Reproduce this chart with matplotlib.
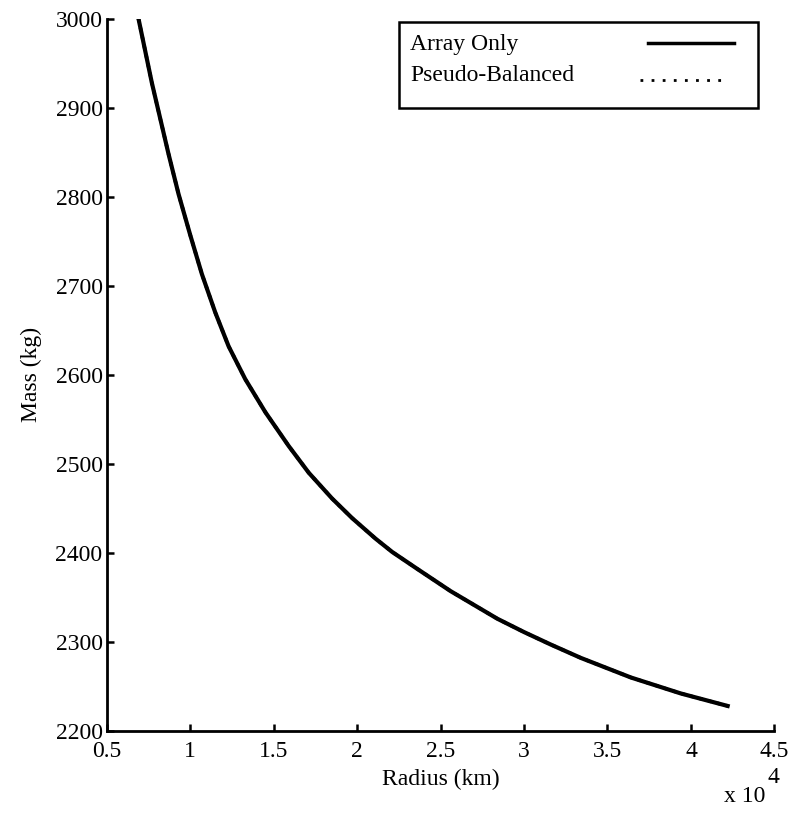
import matplotlib
matplotlib.use("Agg")
import matplotlib.pyplot as plt
from matplotlib.lines import Line2D
from matplotlib.patches import Rectangle
import numpy as np

plt.rcParams['font.family'] = ['Liberation Serif', 'DejaVu Serif']

# values (radius in km, mass in kg)
radius_km = np.array([6900, 7700, 8700, 9300, 10000, 10700, 11500, 12300, 13300,
                      14500, 15900, 17100, 18500, 19700, 21100, 22100, 23600,
                      25600, 28400, 30000, 31600, 33400, 36400, 39400, 42200])
mass_array_only = np.array([3000, 2928, 2848, 2803, 2757, 2713, 2670, 2632, 2595,
                            2558, 2520, 2490, 2461, 2439, 2416, 2401, 2382, 2357,
                            2326, 2311, 2297, 2282, 2260, 2242, 2228])
# the pseudo-balanced curve sits right under the array-only one
mass_pseudo = mass_array_only.copy()

xticks = [0.5, 1, 1.5, 2, 2.5, 3, 3.5, 4, 4.5]
yticks = [2200, 2300, 2400, 2500, 2600, 2700, 2800, 2900, 3000]

fig = plt.figure(figsize=(7.91, 8.13), dpi=100)
ax = fig.add_axes([0.135, 0.101, 0.844, 0.876])

ax.plot(radius_km / 1e4, mass_pseudo, color='black', lw=2.5, ls=':')
ax.plot(radius_km / 1e4, mass_array_only, color='black', lw=3,
        solid_joinstyle='round')

ax.set_xlim(0.5, 4.5)
ax.set_ylim(2200, 3000)
ax.set_xticks(xticks)
ax.set_xticklabels(['0.5', '1', '1.5', '2', '2.5', '3', '3.5', '4', '4.5'])
ax.set_yticks(yticks)

for s in ['top', 'right']:
    ax.spines[s].set_visible(False)
for s in ['left', 'bottom']:
    ax.spines[s].set_linewidth(2)
ax.tick_params(direction='in', length=5, width=1.8, labelsize=17)
ax.tick_params(axis='x', pad=7)
ax.tick_params(axis='y', pad=3)

ax.set_xlabel('Radius (km)', fontsize=17, labelpad=5)
ax.set_ylabel('Mass (kg)', fontsize=17, labelpad=10)
ax.text(0.925, -0.0995, 'x 10', transform=ax.transAxes, fontsize=17,
        ha='left', va='baseline')
ax.text(0.989, -0.073, '4', transform=ax.transAxes, fontsize=17,
        ha='left', va='baseline')

# MATLAB style legend: label on the left, line sample on the right
ax.add_patch(Rectangle((0.438, 0.875), 0.537, 0.121, transform=ax.transAxes,
                       fill=False, edgecolor='black', lw=1.8, clip_on=False))
ax.text(0.454, 0.964, 'Array Only', transform=ax.transAxes, fontsize=17,
        va='center', ha='left')
ax.text(0.454, 0.920, 'Pseudo-Balanced', transform=ax.transAxes, fontsize=17,
        va='center', ha='left')
ax.add_line(Line2D([0.810, 0.939], [0.966, 0.966], transform=ax.transAxes,
                   color='black', lw=2.5))
ax.add_line(Line2D([0.799, 0.931], [0.914, 0.914], transform=ax.transAxes,
                   color='black', lw=2, ls=(0, (1, 3))))

plt.savefig("out.png", dpi=100)
